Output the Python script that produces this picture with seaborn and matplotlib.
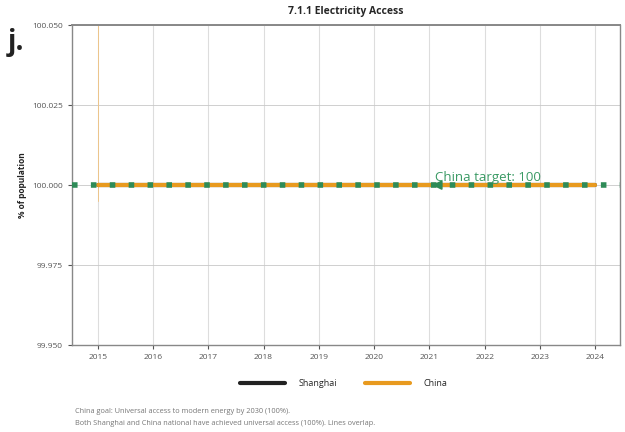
import pandas as pd
import matplotlib.pyplot as plt
import seaborn as sns
from matplotlib.lines import Line2D

# data
years = [2015, 2016, 2017, 2018, 2019, 2020, 2021, 2022, 2023, 2024]
shanghai = [100, 100, 100, 100, 100, 100, 100, 100, 100, 100]
china = [100, 100, 100, 100, 100, 100, 100, 100, 100, 100]
target_value = 100
target_year = 2021
y_ticks = [99.950, 99.975, 100.000, 100.025, 100.050]

df = pd.DataFrame({
    "year": years * 2,
    "value": shanghai + china,
    "region": ["Shanghai"] * len(years) + ["China"] * len(years),
})

sns.set_theme(style="white")
plt.rcParams['font.family'] = ['Open Sans', 'DejaVu Sans']

fig = plt.figure(figsize=(6.25, 4.32), dpi=100)
ax = fig.add_axes([0.115, 0.201, 0.877, 0.741])

palette = {"Shanghai": "#222222", "China": "#e89a1f"}
sns.lineplot(data=df, x="year", y="value", hue="region", palette=palette,
             linewidth=3, ax=ax, legend=False, zorder=3)

# thin marker line at first year
ax.plot([years[0], years[0]], [99.995, 100.05], color="#edc58a", linewidth=0.7, zorder=2)

# target line
ax.axhline(target_value, color="#2e8b57", linewidth=4, linestyle=(0, (1, 2.4)),
           dash_capstyle="butt", zorder=4)
ax.annotate("", xy=(target_year, target_value), xytext=(target_year + 0.15, target_value),
            arrowprops=dict(arrowstyle="-|>", color="#2e8b57", lw=1.2, mutation_scale=14),
            zorder=5)
ax.text(target_year + 0.1, target_value + 0.0003, "China target: 100", color="#3a9a64",
        fontsize=9.5, va="bottom", ha="left", zorder=5)

ax.set_xlim(2014.53, 2024.45)
ax.set_ylim(99.95, 100.05)
ax.set_yticks(y_ticks)
ax.set_yticklabels([f"{v:.3f}" for v in y_ticks])
ax.set_xticks(years)
ax.tick_params(axis="both", labelsize=6, colors="#555555", length=3, width=0.8,
               direction="out", bottom=True, left=True)
ax.grid(axis="x", color="#dddddd", linewidth=0.8)
ax.grid(axis="y", color="#c8c8c8", linewidth=0.6)
for side in ["left", "bottom", "top", "right"]:
    ax.spines[side].set_color("#888888")
    ax.spines[side].set_linewidth(1.0)
ax.spines["top"].set_linewidth(1.4)

ax.set_xlabel("")
ax.set_ylabel("% of population", fontsize=6, fontweight="bold", color="#222222")
ax.set_title("7.1.1 Electricity Access", fontsize=7.5, fontweight="bold", pad=8)

fig.text(0.012, 0.885, "j.", fontsize=20, fontweight="bold", color="#222222")

# legend below
handles = [Line2D([0], [0], color=palette["Shanghai"], lw=3),
           Line2D([0], [0], color=palette["China"], lw=3)]
fig.legend(handles, ["Shanghai", "China"], loc="center", bbox_to_anchor=(0.55, 0.113),
           ncol=2, frameon=False, fontsize=6.5, handlelength=5, columnspacing=3,
           handletextpad=1.5)

fig.text(0.12, 0.044, "China goal: Universal access to modern energy by 2030 (100%).",
         fontsize=5.3, color="#777777")
fig.text(0.12, 0.016, "Both Shanghai and China national have achieved universal access (100%). Lines overlap.",
         fontsize=5.3, color="#777777")

fig.savefig("out.png", dpi=100, facecolor="white")
